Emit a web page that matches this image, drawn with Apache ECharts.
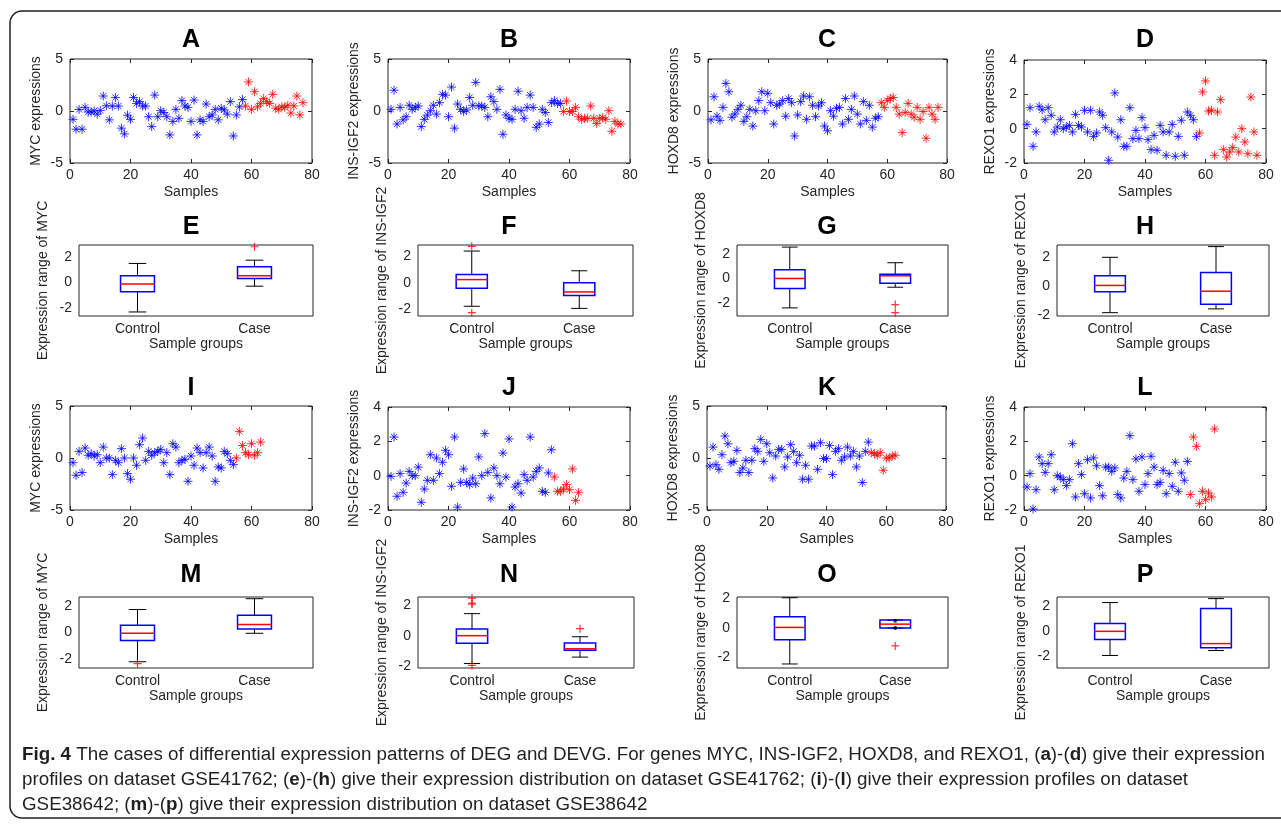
<!DOCTYPE html>
<html><head><meta charset="utf-8">
<script src="https://cdn.jsdelivr.net/npm/echarts@6/dist/echarts.min.js"></script>
<style>html,body{margin:0;padding:0;background:#fff}#c{width:1281px;height:827px}</style>
</head><body><div id="c"></div><script>
// ---------- data ----------
const sampleTicks = [0, 20, 40, 60, 80];
const groups = ['Control', 'Case'];
const boxTicks = [-2, 0, 2];

// GSE41762 expression profiles (A-D): 57 control, 20 case
const mycCtrlA = [-0.8,-1.75,0.15,-1.75,0.35,-0.1,-0.1,0.0,-0.3,0.05,1.44,0.5,-0.85,0.48,1.3,0.48,-1.65,-2.2,-0.4,-0.8,1.3,0.73,0.9,0.48,0.48,-0.55,-1.5,1.53,-0.55,0.03,-0.15,-0.55,-2.3,-1.0,0.16,-0.7,1.0,0.48,0.35,-1.0,1.05,-2.3,-0.85,-1.0,0.67,-0.55,-0.38,0.16,-0.85,0.26,0.1,-0.3,0.9,-2.4,-0.38,0.4,1.1];
const mycCaseA = [0.48,2.8,0.16,1.85,0.4,0.73,1.2,0.9,0.73,1.6,0.26,0.16,0.4,0.35,0.55,-0.2,0.48,1.44,-0.38,0.8];
const insCtrlB = [0.16,2.0,-1.25,0.35,-0.85,-0.55,0.55,0.16,0.35,0.48,-1.5,-0.8,-0.4,0.03,0.55,-0.3,0.8,1.6,1.53,-0.55,2.3,-1.65,0.67,0.16,-0.05,0.1,1.3,0.55,2.75,0.48,0.48,0.35,-0.55,1.37,0.9,0.16,2.08,-2.24,-0.38,-0.7,-0.8,0.16,1.9,0.03,-0.7,0.35,1.53,0.35,-1.57,-1.25,0.16,-0.15,-1.1,0.8,1.0,0.73,0.73];
const insCaseB = [-0.05,0.96,-0.05,-0.05,0.35,-0.55,-0.8,-0.7,-0.7,0.48,-0.7,-1.2,-0.7,-0.65,-0.8,0.03,-1.95,-1.0,-1.25,-1.25];
const hoxCtrlC = [-0.85,1.37,-0.5,-0.9,0.35,2.65,1.85,-0.6,-0.3,0.16,0.55,-1.0,-0.55,0.16,-1.45,0.03,1.0,1.85,0.03,1.7,0.8,-1.25,0.55,0.67,1.0,-0.5,1.2,0.8,-2.4,-0.38,0.9,1.44,-0.8,1.37,0.55,-0.55,0.48,0.8,-1.45,-1.9,0.03,-0.5,0.26,0.35,-1.25,1.2,-0.8,0.16,1.44,-0.3,-1.25,0.9,-0.9,0.55,-1.55,-0.7,-0.55];
const hoxCaseC = [0.8,0.35,1.0,1.2,1.3,0.35,-0.3,-2.08,-0.15,0.73,-0.3,-0.6,0.35,-0.8,-0.05,-2.62,0.35,-0.3,-0.8,0.35];
const rexCtrlD = [0.25,1.22,-1.03,-0.19,1.3,1.1,0.52,1.22,0.78,-0.19,0.1,0.52,0.0,0.1,0.19,-0.19,0.83,0.19,0.1,1.07,-0.19,1.07,-0.45,-0.25,0.97,0.78,0.06,-1.84,-0.19,2.08,-0.49,0.52,-1.03,-1.03,1.22,-0.58,-0.1,-0.58,0.64,0.06,-0.64,-1.22,-0.39,-1.26,0.19,-0.19,-1.55,-0.19,0.25,-1.61,-0.45,0.49,-1.55,0.97,0.78,0.52,-0.45];
const rexCaseD = [-0.25,2.14,2.78,1.03,1.07,-1.55,0.97,1.69,-1.22,-1.65,-1.36,-1.1,-0.49,-1.36,0.0,-0.78,-1.46,1.84,-0.19,-1.55];

// GSE38642 expression profiles (I-L): 54 control, 9 case
const mycCtrlI = [-0.45,-1.66,0.64,-1.4,0.96,0.26,0.42,0.19,0.32,-0.45,1.05,0.0,0.0,-1.6,-0.22,-0.45,0.9,0.0,-1.5,-2.04,0.0,-0.7,1.28,1.92,-0.22,0.64,0.26,0.51,0.64,0.83,-0.45,0.51,-1.6,1.37,1.05,-0.45,-0.22,-0.13,-2.24,0.19,-0.7,0.96,0.51,-0.96,0.51,1.05,0.19,-2.24,-0.86,-0.96,0.64,0.42,-0.22,-0.64];
const mycCaseI = [0.0,2.56,1.2,0.51,0.32,1.37,0.26,0.51,1.53];
const insCtrlJ = [-0.04,2.25,-1.2,0.12,-0.97,-0.43,0.25,0.0,0.0,0.5,-1.55,-0.78,-0.27,1.22,-0.27,1.03,0.12,0.78,1.48,1.22,-0.62,2.25,-1.83,-0.39,0.39,-0.39,-0.52,-0.14,-0.47,1.09,0.0,2.45,0.19,-1.3,0.45,0.0,-0.47,1.32,-0.08,2.14,-1.83,-0.66,-0.47,-1.01,0.06,-0.27,2.25,-0.08,0.25,0.45,-0.91,-0.97,0.16,1.51];
const insCaseJ = [-0.08,-0.91,-0.91,-0.78,-0.52,-0.82,0.39,-1.44,-0.97];
const hoxCtrlK = [-0.77,1.05,-0.64,-1.09,0.32,2.11,1.37,-0.45,-0.32,0.73,-1.4,-0.96,-0.22,-1.4,-0.22,0.9,0.64,1.79,-0.32,1.37,0.51,-1.92,0.19,0.83,0.83,-0.86,0.1,1.28,0.64,-0.45,0.26,-2.04,-0.7,-2.04,1.15,1.15,-1.09,1.47,-0.06,-0.06,1.21,-1.6,0.64,0.9,-0.22,0.1,1.05,0.19,0.64,-0.86,0.19,-2.36,0.64,1.53];
const hoxCaseK = [0.51,0.42,0.26,0.51,-1.18,0.0,0.0,0.19,0.26];
const rexCtrlL = [-0.66,0.12,-1.94,-0.82,1.09,0.7,0.19,0.7,1.22,-0.82,0.0,-0.08,-0.23,-0.58,-0.23,1.86,-1.24,0.7,0.06,-1.05,0.93,-1.3,1.03,0.58,-0.58,-1.17,0.5,0.5,0.25,0.45,-1.1,-1.3,-0.14,0.25,2.33,-0.23,0.97,-0.91,1.09,-0.52,0.12,1.13,0.5,-0.52,-0.39,0.31,-1.05,0.12,-0.62,0.78,-0.91,0.16,-0.27,0.83];
const rexCaseL = [-1.1,2.25,1.71,-1.63,-0.91,-1.4,-1.01,-1.24,2.72];

// Box statistics [lower whisker, Q1, median, Q3, upper whisker]; outliers [groupIndex, value]
const boxCtrlE = [-2.33,-0.74,-0.11,0.53,1.51], boxCaseE = [-0.29,0.32,0.53,1.25,1.77], outE = [[1,2.83]];
const boxCtrlF = [-1.78,-0.41,0.25,0.64,2.42], boxCaseF = [-1.94,-0.97,-0.69,0.0,0.92], outF = [[0,2.78],[0,-2.27]];
const boxCtrlG = [-2.39,-0.82,0.0,0.71,2.55], boxCaseG = [-0.71,-0.38,0.22,0.35,1.28], outG = [[1,-2.12],[1,-2.78]];
const boxCtrlH = [-1.83,-0.39,0.05,0.72,1.99], boxCaseH = [-1.57,-1.25,-0.35,0.95,2.73], outH = [];
const boxCtrlM = [-2.23,-0.61,-0.05,0.56,1.77], boxCaseM = [-0.05,0.28,0.63,1.34,2.6], outM = [[0,-2.38]];
const boxCtrlN = [-1.84,-0.5,0.0,0.44,1.46], boxCaseN = [-1.42,-0.96,-0.87,-0.48,-0.07], outN = [[0,2.49],[0,2.16],[0,2.08],[0,-1.97],[1,0.46]];
const boxCtrlO = [-2.43,-0.8,0.02,0.73,2.01], boxCaseO = [-0.02,-0.02,0.24,0.51,0.51], outO = [[1,-1.22]], dotsO = [[1,0.46],[1,-0.02]];
const boxCtrlP = [-1.95,-0.67,0.0,0.64,2.32], boxCaseP = [-1.55,-1.33,-0.99,1.84,2.64], outP = [];

// ---------- layout ----------
const FONT = '"Liberation Sans", Arial, Helvetica, sans-serif';
const INK = '#262626';
const STAR = 'path://M5,0L5,10M0,5L10,5M1.6,1.6L8.4,8.4M8.4,1.6L1.6,8.4';
const PLUS = 'path://M5,0L5,10M0,5L10,5';

const scatterPanels = [
  {t:'A', l:70,   tp:59,  w:242, h:104, yr:[-5,5,5], yn:'MYC expressions',      c:mycCtrlA, s:mycCaseA},
  {t:'B', l:388,  tp:59,  w:242, h:104, yr:[-5,5,5], yn:'INS-IGF2 expressions', c:insCtrlB, s:insCaseB},
  {t:'C', l:708,  tp:59,  w:239, h:104, yr:[-5,5,5], yn:'HOXD8 expressions',    c:hoxCtrlC, s:hoxCaseC},
  {t:'D', l:1024, tp:60,  w:242, h:103, yr:[-2,4,2], yn:'REXO1 expressions',    c:rexCtrlD, s:rexCaseD},
  {t:'I', l:70,   tp:406, w:242, h:104, yr:[-5,5,5], yn:'MYC expressions',      c:mycCtrlI, s:mycCaseI},
  {t:'J', l:388,  tp:407, w:242, h:103, yr:[-2,4,2], yn:'INS-IGF2 expressions', c:insCtrlJ, s:insCaseJ},
  {t:'K', l:707,  tp:406, w:239, h:104, yr:[-5,5,5], yn:'HOXD8 expressions',    c:hoxCtrlK, s:hoxCaseK},
  {t:'L', l:1024, tp:407, w:242, h:103, yr:[-2,4,2], yn:'REXO1 expressions',    c:rexCtrlL, s:rexCaseL}
];
const boxPanels = [
  {t:'E', l:79,   tp:245, w:234, h:71, yr:[-2.65,2.97], yn:'Expression range of MYC',      c:boxCtrlE, s:boxCaseE, o:outE},
  {t:'F', l:418,  tp:245, w:215, h:71, yr:[-2.52,2.88], yn:'Expression range of INS-IGF2', c:boxCtrlF, s:boxCaseF, o:outF},
  {t:'G', l:737,  tp:245, w:211, h:71, yr:[-3.05,2.72], yn:'Expression range of HOXD8',    c:boxCtrlG, s:boxCaseG, o:outG},
  {t:'H', l:1057, tp:245, w:212, h:71, yr:[-2.06,2.84], yn:'Expression range of REXO1',    c:boxCtrlH, s:boxCaseH, o:outH},
  {t:'M', l:79,   tp:597, w:234, h:71, yr:[-2.71,2.73], yn:'Expression range of MYC',      c:boxCtrlM, s:boxCaseM, o:outM},
  {t:'N', l:418,  tp:597, w:216, h:71, yr:[-2.14,2.56], yn:'Expression range of INS-IGF2', c:boxCtrlN, s:boxCaseN, o:outN},
  {t:'O', l:737,  tp:597, w:211, h:71, yr:[-2.7,2.06],  yn:'Expression range of HOXD8',    c:boxCtrlO, s:boxCaseO, o:outO, d:dotsO},
  {t:'P', l:1057, tp:597, w:212, h:71, yr:[-2.96,2.77], yn:'Expression range of REXO1',    c:boxCtrlP, s:boxCaseP, o:outP}
];
const titleX = [191, 509, 827, 1145];
const titleY = {A:40,B:40,C:40,D:40,E:227,F:227,G:227,H:227,I:388,J:388,K:388,L:388,M:575,N:575,O:575,P:575};
const titleCol = {A:0,B:1,C:2,D:3,E:0,F:1,G:2,H:3,I:0,J:1,K:2,L:3,M:0,N:1,O:2,P:3};

const grid = [], xAxis = [], yAxis = [], series = [], graphic = [];
const lbl = {color: INK, fontSize: 14, fontFamily: FONT};
const tick = {inside: true, length: 4, lineStyle: {color: INK, width: 1}};
const noLine = {show: false, onZero: false};

function addGrid(p) {
  const gi = grid.length;
  grid.push({left: p.l, top: p.tp, width: p.w, height: p.h, show: true,
             borderColor: INK, borderWidth: 1, backgroundColor: '#fff'});
  return gi;
}

scatterPanels.forEach(p => {
  const gi = addGrid(p);
  const xi = xAxis.length, yi = yAxis.length;
  xAxis.push({gridIndex: gi, type: 'value', min: 0, max: 80, interval: 20, axisLine: noLine,
    axisTick: tick, splitLine: {show: false}, axisLabel: Object.assign({margin: 5}, lbl),
    name: 'Samples', nameLocation: 'middle', nameGap: 22, nameTextStyle: lbl});
  xAxis.push({gridIndex: gi, type: 'value', position: 'top', min: 0, max: 80, interval: 20,
    axisLine: noLine, axisTick: tick, splitLine: {show: false}, axisLabel: {show: false}});
  yAxis.push({gridIndex: gi, type: 'value', min: p.yr[0], max: p.yr[1], interval: p.yr[2],
    axisLine: noLine, axisTick: tick, splitLine: {show: false}, axisLabel: Object.assign({margin: 7}, lbl),
    name: p.yn, nameLocation: 'middle', nameRotate: 90, nameGap: 27, nameTextStyle: lbl});
  yAxis.push({gridIndex: gi, type: 'value', position: 'right', min: p.yr[0], max: p.yr[1], interval: p.yr[2],
    axisLine: noLine, axisTick: tick, splitLine: {show: false}, axisLabel: {show: false}});
  const n = p.c.length;
  series.push({type: 'scatter', xAxisIndex: xi, yAxisIndex: yi, symbol: STAR, symbolSize: 9,
    itemStyle: {color: 'none', borderColor: '#0000ff', borderWidth: 1},
    data: p.c.map((v, i) => [i + 1, v]), silent: true});
  series.push({type: 'scatter', xAxisIndex: xi, yAxisIndex: yi, symbol: STAR, symbolSize: 9,
    itemStyle: {color: 'none', borderColor: '#ff0000', borderWidth: 1},
    data: p.s.map((v, i) => [n + i + 1, v]), silent: true});
});

function boxRender(params, api) {
  const cat = api.value(0);
  const pts = [1, 2, 3, 4, 5].map(i => api.coord([cat, api.value(i)]));
  const x = pts[0][0];
  const band = api.size([1, 0])[0];
  const hw = band * 0.145, cw = band * 0.075;
  const [yLo, yQ1, yMed, yQ3, yHi] = pts.map(q => q[1]);
  const blk = {stroke: '#000', lineWidth: 1};
  return {type: 'group', children: [
    {type: 'line', shape: {x1: x, y1: yQ3, x2: x, y2: yHi}, style: blk},
    {type: 'line', shape: {x1: x, y1: yQ1, x2: x, y2: yLo}, style: blk},
    {type: 'line', shape: {x1: x - cw, y1: yHi, x2: x + cw, y2: yHi}, style: blk},
    {type: 'line', shape: {x1: x - cw, y1: yLo, x2: x + cw, y2: yLo}, style: blk},
    {type: 'rect', shape: {x: x - hw, y: yQ3, width: 2 * hw, height: yQ1 - yQ3},
      style: {stroke: '#0000ff', lineWidth: 1.5, fill: 'none'}},
    {type: 'line', shape: {x1: x - hw, y1: yMed, x2: x + hw, y2: yMed},
      style: {stroke: '#ff0000', lineWidth: 1.5}}
  ]};
}

boxPanels.forEach(p => {
  const gi = addGrid(p);
  const xi = xAxis.length, yi = yAxis.length;
  xAxis.push({gridIndex: gi, type: 'category', data: groups, boundaryGap: true, axisLine: noLine,
    axisTick: Object.assign({alignWithLabel: true}, tick), splitLine: {show: false},
    axisLabel: Object.assign({margin: 6}, lbl),
    name: 'Sample groups', nameLocation: 'middle', nameGap: 21, nameTextStyle: lbl});
  xAxis.push({gridIndex: gi, type: 'category', data: groups, position: 'top', boundaryGap: true,
    axisLine: noLine, axisTick: Object.assign({alignWithLabel: true}, tick), splitLine: {show: false},
    axisLabel: {show: false}});
  yAxis.push({gridIndex: gi, type: 'value', min: p.yr[0], max: p.yr[1], axisLine: noLine,
    axisTick: Object.assign({customValues: boxTicks}, tick), splitLine: {show: false},
    axisLabel: Object.assign({margin: 7, customValues: boxTicks}, lbl),
    name: p.yn, nameLocation: 'middle', nameRotate: 90, nameGap: 29, nameTextStyle: lbl});
  yAxis.push({gridIndex: gi, type: 'value', position: 'right', min: p.yr[0], max: p.yr[1],
    axisLine: noLine, axisTick: Object.assign({customValues: boxTicks}, tick), splitLine: {show: false},
    axisLabel: {show: false}});
  series.push({type: 'custom', xAxisIndex: xi, yAxisIndex: yi, renderItem: boxRender, silent: true,
    encode: {x: 0, y: [1, 2, 3, 4, 5]}, data: [[0].concat(p.c), [1].concat(p.s)], z: 3});
  series.push({type: 'scatter', xAxisIndex: xi, yAxisIndex: yi, symbol: PLUS, symbolSize: 8, silent: true,
    itemStyle: {color: 'none', borderColor: '#ff0000', borderWidth: 1.2}, data: p.o, z: 4});
  if (p.d) series.push({type: 'scatter', xAxisIndex: xi, yAxisIndex: yi, symbol: 'circle', symbolSize: 4,
    silent: true, itemStyle: {color: '#000'}, data: p.d, z: 5});
});

// panel letters
Object.keys(titleY).forEach(k => {
  graphic.push({type: 'text', x: titleX[titleCol[k]], y: titleY[k], z: 10,
    style: {text: k, fontSize: 25, fontWeight: 'bold', fontFamily: FONT, fill: '#000',
            align: 'center', verticalAlign: 'middle'}});
});

// outer rounded frame
graphic.push({type: 'rect', shape: {x: 10, y: 11, width: 1300, height: 807, r: 12}, z: -1,
  style: {fill: 'none', stroke: '#231f20', lineWidth: 1.5}});

// caption
const capLines = [
  '{b|Fig. 4} The cases of differential expression patterns of DEG and DEVG. For genes MYC, INS-IGF2, HOXD8, and REXO1, ({b|a})-({b|d}) give their expression',
  'profiles on dataset GSE41762; ({b|e})-({b|h}) give their expression distribution on dataset GSE41762; ({b|i})-({b|l}) give their expression profiles on dataset',
  'GSE38642; ({b|m})-({b|p}) give their expression distribution on dataset GSE38642'
];
capLines.forEach((t, i) => {
  graphic.push({type: 'text', x: 22, y: 755 + i * 25, z: 10,
    style: {text: t, fontSize: 18.8, fontFamily: FONT, fill: '#231f20', align: 'left', verticalAlign: 'middle',
      rich: {b: {fontSize: 18.8, fontFamily: FONT, fontWeight: 'bold', fill: '#231f20'}}}});
});

const chart = echarts.init(document.getElementById('c'), null, {renderer: 'canvas'});
chart.setOption({animation: false, backgroundColor: '#fff', grid, xAxis, yAxis, series, graphic});
</script></body></html>
